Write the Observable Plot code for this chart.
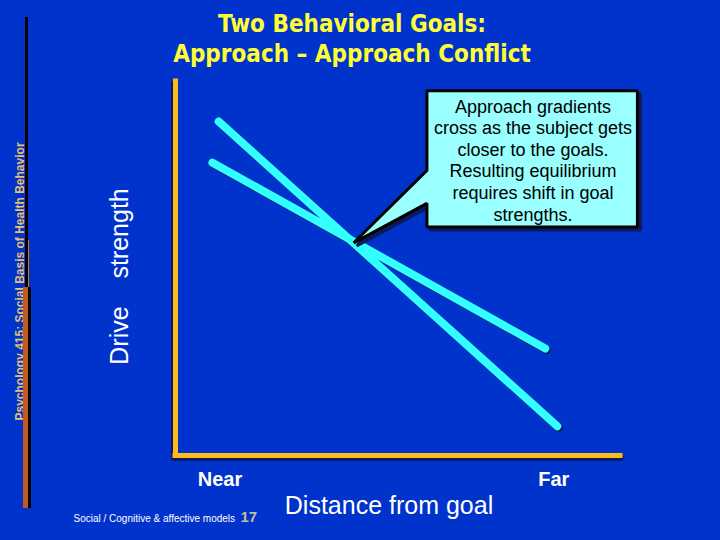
<!DOCTYPE html>
<html>
<head>
<meta charset="utf-8">
<script src="https://cdn.jsdelivr.net/npm/d3@7"></script>
<script src="https://cdn.jsdelivr.net/npm/@observablehq/plot@0.6"></script>
<style>
  html, body { margin: 0; padding: 0; background: #0033cc; }
  #wrap { position: relative; width: 720px; height: 540px; overflow: hidden; background: #0033cc; }
  #wrap svg { position: absolute; left: 0; top: 0; }
  .bar { position: absolute; z-index: 2; }
</style>
</head>
<body>
<div id="wrap">
  <div class="bar" style="left:25px;top:17px;width:3px;height:272px;background:#000;"></div>
  <div class="bar" style="left:28px;top:240px;width:1px;height:48px;background:#e07a20;"></div>
  <div class="bar" style="left:23px;top:287px;width:5px;height:221px;background:#c05a20;"></div>
  <div class="bar" style="left:28px;top:287px;width:3px;height:221px;background:#000;"></div>
</div>
<script>
// ---- text content ----
const titleLines = ["Two Behavioral Goals:", "Approach – Approach Conflict"];
const sideNote = "Psychology 415: Social Basis of Health Behavior";
const yLabel = "Drive\u00a0\u00a0\u00a0\u00a0strength";
const xLabel = "Distance from goal";
const xTickValues = [1, 8.5];
const xTickLabels = ["Near", "Far"];
const calloutLines = [
  "Approach gradients",
  "cross as the subject gets",
  "closer to the goals.",
  "Resulting equilibrium",
  "requires shift in goal",
  "strengths."
];
const footerText = "Social / Cognitive & affective models";
const pageNumber = "17";

// ---- series (distance 0..10, drive strength 0..10) ----
const gradientNames = ["Goal A", "Goal B"];
const distanceA = [0.97, 8.58];
const driveA = [8.93, 0.78];
const distanceB = [0.83, 8.31];
const driveB = [7.83, 2.86];

// table for Plot
const rows = [
  ...distanceA.map((d, i) => ({name: gradientNames[0], distance: d, drive: driveA[i]})),
  ...distanceB.map((d, i) => ({name: gradientNames[1], distance: d, drive: driveB[i]}))
];

// intersection of the two gradients (the equilibrium point)
const slopeA = (driveA[1] - driveA[0]) / (distanceA[1] - distanceA[0]);
const slopeB = (driveB[1] - driveB[0]) / (distanceB[1] - distanceB[0]);
const crossX = (driveB[0] - slopeB * distanceB[0] - driveA[0] + slopeA * distanceA[0]) / (slopeA - slopeB);
const crossY = driveA[0] + slopeA * (crossX - distanceA[0]);

// callout layout (data units)
const box = {left: 5.65, right: 10.38, top: 9.75, bottom: 6.11, notchTop: 7.62, notchBottom: 6.74};
const callout = [
  {x: box.left, y: box.top},
  {x: box.right, y: box.top},
  {x: box.right, y: box.bottom},
  {x: box.left, y: box.bottom},
  {x: box.left, y: box.notchBottom},
  {x: crossX + 0.1, y: crossY - 0.1},
  {x: box.left, y: box.notchTop},
  {x: box.left, y: box.top}
];

const orange = "#fbbc1c";
const cyan = "#33ffff";
const shadow = "#0a1a5c";
const font = "Liberation Sans, Arial, sans-serif";
const mid = {textAnchor: "middle", lineAnchor: "middle"};

const chart = Plot.plot({
  width: 720,
  height: 540,
  marginLeft: 175,
  marginRight: 100,
  marginTop: 81,
  marginBottom: 85,
  x: {domain: [0, 10]},
  y: {domain: [0, 10], axis: null},
  style: {background: "#0033cc", color: "white", fontFamily: font, overflow: "visible"},
  marks: [
    // axes shadow
    Plot.ruleX([0], {y1: 0, y2: 10, stroke: shadow, strokeWidth: 5, dx: -2, dy: 3, strokeLinecap: "square"}),
    Plot.ruleY([0], {x1: 0, x2: 10, stroke: shadow, strokeWidth: 5, dx: 1, dy: 3, strokeLinecap: "square"}),
    // gradients
    Plot.line(rows, {x: "distance", y: "drive", z: "name", stroke: shadow, strokeWidth: 8, dx: 1.5, dy: 1.5}),
    Plot.line(rows, {x: "distance", y: "drive", z: "name", stroke: cyan, strokeWidth: 8}),
    // orange axes
    Plot.ruleX([0], {y1: 0, y2: 10, stroke: orange, strokeWidth: 5, strokeLinecap: "square"}),
    Plot.ruleY([0], {x1: 0, x2: 10, stroke: orange, strokeWidth: 5, strokeLinecap: "square"}),
    // callout
    Plot.line(callout, {x: "x", y: "y", fill: shadow, stroke: shadow, strokeWidth: 3, dx: 3, dy: 3, strokeLinejoin: "miter"}),
    Plot.line(callout, {x: "x", y: "y", fill: "#99ffff", stroke: "#000", strokeWidth: 3, strokeLinejoin: "miter"}),
    Plot.text([calloutLines.join("\n")], {
      x: (box.left + box.right) / 2 + 0.02, y: 7.91, ...mid, fill: "#000", fontSize: 18, lineHeight: 1.2, fontFamily: font
    }),
    // x ticks
    Plot.axisX(xTickValues, {
      tickFormat: d => xTickLabels[xTickValues.indexOf(d)],
      tickSize: 0, tickPadding: 16, fontSize: 20, fontWeight: "bold", fill: "white", label: null, fontFamily: font
    }),
    // axis labels
    Plot.text([xLabel], {frameAnchor: "bottom", ...mid, dx: -9, dy: 50, fontSize: 25, fill: "white", fontFamily: font}),
    Plot.text([yLabel], {frameAnchor: "left", ...mid, rotate: -90, dx: -56, dy: 8, fontSize: 25, fill: "white", fontFamily: font}),
    // title
    Plot.text([titleLines.join("\n")], {
      frameAnchor: "top", ...mid, dx: -46, dy: -44, fontSize: 24, lineHeight: 1.25, fontWeight: "bold",
      fill: "#ffff33", fontFamily: "DejaVu Sans Condensed, DejaVu Sans, sans-serif"
    }),
    // side note
    Plot.text([sideNote], {
      frameAnchor: "left", ...mid, rotate: -90, dx: -155.5, dy: 13, fontSize: 12, fontWeight: "bold",
      fill: "#e8c070", fontFamily: "Liberation Sans Narrow, Liberation Sans, sans-serif"
    }),
    // footer
    Plot.text([footerText], {frameAnchor: "bottom-left", textAnchor: "start", lineAnchor: "middle", dx: -102, dy: 63, fontSize: 10, fill: "white", fontFamily: font}),
    Plot.text([pageNumber], {frameAnchor: "bottom-left", textAnchor: "start", lineAnchor: "middle", dx: 65, dy: 62, fontSize: 15, fontWeight: "bold", fill: "#c4bca0", fontFamily: font})
  ]
});

document.getElementById("wrap").appendChild(chart);
</script>
</body>
</html>
